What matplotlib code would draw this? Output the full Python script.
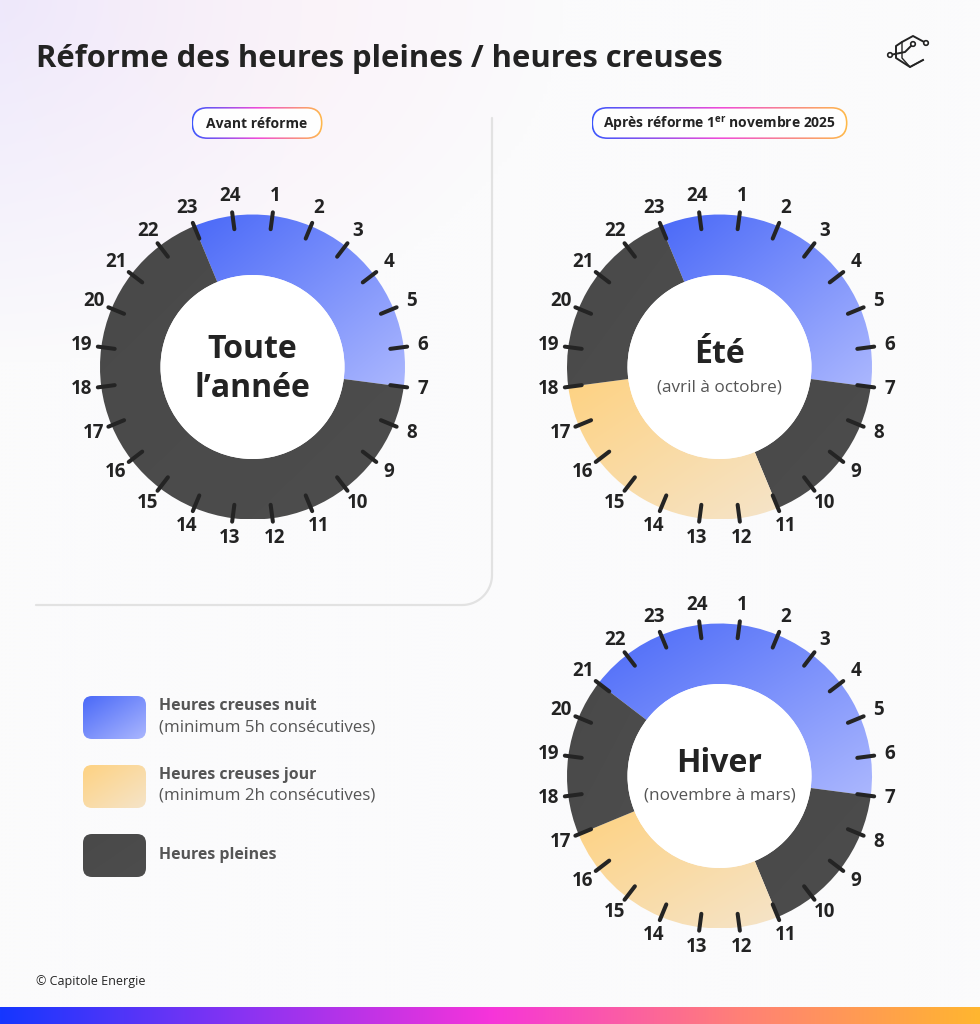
import numpy as np
import matplotlib
matplotlib.use('Agg')
import matplotlib.pyplot as plt
from matplotlib.patches import Wedge, FancyBboxPatch, Circle
from matplotlib.colors import to_rgb

plt.rcParams['font.family'] = ['Open Sans', 'DejaVu Sans']
plt.rcParams['mathtext.fontset'] = 'custom'
plt.rcParams['mathtext.rm'] = 'Open Sans'
plt.rcParams['mathtext.bf'] = 'Open Sans:bold'

W, H = 980, 1024

# ---- data ----
hours = list(range(1, 25))

# each chart: hour where a block starts (clockwise) and the kind of block
avant_starts = [23, 7]
avant_kinds = ['nuit', 'pleines']
ete_starts = [23, 7, 11, 18]
ete_kinds = ['nuit', 'pleines', 'jour', 'pleines']
hiver_starts = [21, 7, 11, 17]
hiver_kinds = ['nuit', 'pleines', 'jour', 'pleines']

legend_kinds = ['nuit', 'jour', 'pleines']
legend_titles = ['Heures creuses nuit', 'Heures creuses jour', 'Heures pleines']
legend_notes = ['(minimum 5h consécutives)', '(minimum 2h consécutives)', '']

colours = {
    'nuit': ('#4a69f8', '#abb7fe'),
    'jour': ('#fed282', '#f5e4c9'),
    'pleines': ('#494949', '#4d4d4d'),
}

DARK = '#232323'
GREY = '#555555'

fig = plt.figure(figsize=(W / 100, H / 100), dpi=100)
ax = fig.add_axes([0, 0, 1, 1])
ax.set_axis_off()


def gradient_fill(patch, c0, c1, bbox, z, direction='diag'):
    ax.add_patch(patch)
    x0, y0, x1, y1 = bbox
    xx, yy = np.meshgrid(np.linspace(0, 1, 120), np.linspace(0, 1, 120))
    if direction == 'diag':
        t = (xx + yy) / 2
    else:
        t = xx
    a = np.array(to_rgb(c0))
    b = np.array(to_rgb(c1))
    img = a * (1 - t)[..., None] + b * t[..., None]
    im = ax.imshow(img, extent=(x0, x1, y1, y0), origin='upper',
                   interpolation='bilinear', aspect='auto', zorder=z)
    im.set_clip_path(patch)
    return im


# ---- background ----
xx, yy = np.meshgrid(np.linspace(0, W, 245), np.linspace(0, H, 256))
base = np.array(to_rgb('#fbfbfc'))
lav = np.array(to_rgb('#eee8fb'))
pink = np.array(to_rgb('#f9ebf7'))
w = np.clip(1 - np.sqrt((xx / 560) ** 2 + (yy / 360) ** 2), 0, 1) ** 0.9
mix = np.clip(xx / 300, 0, 1)[..., None]
tint = lav * (1 - mix) + pink * mix
bg = base * (1 - w[..., None]) + tint * w[..., None]
ax.imshow(bg, extent=(0, W, H, 0), origin='upper', interpolation='bilinear',
          aspect='auto', zorder=0)

# bottom colour bar
bar_cols = ['#1537ff', '#8a33f2', '#f634da', '#ff7f78', '#ffb62f']
pos = np.linspace(0, 1, len(bar_cols))
tx = np.linspace(0, 1, 400)
bar = np.stack([np.interp(tx, pos, [to_rgb(c)[k] for c in bar_cols]) for k in range(3)], axis=-1)
ax.imshow(bar[None, :, :], extent=(0, W, H, 1007), origin='upper',
          interpolation='bilinear', aspect='auto', zorder=1)

# ---- title ----
ax.text(36, 67, 'Réforme des heures pleines / heures creuses', fontsize=22.3,
        fontweight='bold', color=DARK, ha='left', va='baseline', zorder=5)

# logo (rough)
logo_x = [926, 913, 902, 896, 896, 910, 923]
logo_y = [43, 36, 42, 46, 58, 67, 60]
ax.plot(logo_x, logo_y, color=DARK, lw=1.4, zorder=5)
ax.plot([890, 905, 913], [55, 52, 44], color=DARK, lw=1.4, zorder=5)
ax.plot([902, 902, 910, 923], [42, 58, 67, 60], color=DARK, lw=1.0, zorder=5)
for cx, cy in [(890, 55), (913, 44), (926, 43)]:
    ax.add_patch(Circle((cx, cy), 2.3, fc='white', ec=DARK, lw=1.2, zorder=6))

# ---- pills ----
pill_cols = ['#3c57fd', '#f04bd9', '#ffbb48']


def pill(cx, cy, wid, hei, label):
    x0, y0 = cx - wid / 2, cy - hei / 2
    outer = FancyBboxPatch((x0, y0), wid, hei, boxstyle='round,pad=0,rounding_size=%f' % (hei / 2),
                           fc='none', ec='none', zorder=3)
    ax.add_patch(outer)
    xs = np.linspace(0, 1, 300)
    p = np.linspace(0, 1, len(pill_cols))
    img = np.stack([np.interp(xs, p, [to_rgb(c)[k] for c in pill_cols]) for k in range(3)], axis=-1)
    im = ax.imshow(img[None, :, :], extent=(x0, x0 + wid, y0 + hei, y0), origin='upper',
                   interpolation='bilinear', aspect='auto', zorder=3)
    im.set_clip_path(outer)
    d = 1.6
    inner = FancyBboxPatch((x0 + d, y0 + d), wid - 2 * d, hei - 2 * d,
                           boxstyle='round,pad=0,rounding_size=%f' % (hei / 2 - d),
                           fc='#fefefe', ec='none', zorder=4)
    ax.add_patch(inner)
    ax.text(cx, cy + 1, label, fontsize=10, fontweight='bold', color=DARK,
            ha='center', va='center', zorder=5)


pill(257, 123, 131, 32, 'Avant réforme')
pill(719.5, 123, 256, 32, r'Après réforme 1$^{\mathbf{er}}$ novembre 2025')

# ---- divider ----
rad = 30
arc = np.linspace(0, np.pi / 2, 30)
div_x = np.concatenate([[492], 492 - rad + rad * np.cos(arc), [36]])
div_y = np.concatenate([[118], 605 - rad + rad * np.sin(arc), [605]])
ax.plot(div_x, div_y, color='#e2e2e2', lw=1.6, solid_capstyle='round', zorder=2)

# ---- donuts ----
R_OUT, R_IN = 152.5, 92


def clock_angle(h):
    return (h - 0.5) * 15


def donut(cx, cy, starts, kinds, title, subtitle=None):
    n = len(starts)
    for i in range(n):
        a = starts[i]
        b = starts[(i + 1) % n]
        if b <= a:
            b += 24
        th1 = clock_angle(a) - 90
        th2 = clock_angle(b) - 90
        wdg = Wedge((cx, cy), R_OUT, th1, th2, width=R_OUT - R_IN,
                    fc='none', ec='none', zorder=3)
        ext = wdg.get_path().get_extents()
        c0, c1 = colours[kinds[i]]
        gradient_fill(wdg, c0, c1, (ext.x0, ext.y0, ext.x1, ext.y1), 3)
    ax.add_patch(Circle((cx, cy), R_IN, fc='white', ec='none', zorder=3.5))
    for h in hours:
        c = np.radians(clock_angle(h))
        dx, dy = np.sin(c), -np.cos(c)
        ax.plot([cx + 139 * dx, cx + 156 * dx], [cy + 139 * dy, cy + 156 * dy],
                color='#242424', lw=2.9, solid_capstyle='round', zorder=4)
        ax.text(cx + 172 * dx, cy + 172 * dy, str(h), fontsize=13.5, fontweight='bold',
                color=DARK, ha='center', va='center', zorder=5)
    if subtitle is None:
        ax.text(cx, cy - 9, title[0], fontsize=23, fontweight='bold', color=DARK,
                ha='center', va='baseline', zorder=5)
        ax.text(cx, cy + 30, title[1], fontsize=23, fontweight='bold', color=DARK,
                ha='center', va='baseline', zorder=5)
    else:
        ax.text(cx, cy - 4, title, fontsize=23, fontweight='bold', color=DARK,
                ha='center', va='baseline', zorder=5)
        ax.text(cx, cy + 20, subtitle, fontsize=12.3, color=GREY,
                ha='center', va='center', zorder=5)


donut(252.5, 367, avant_starts, avant_kinds, ('Toute', 'l\u2019année'))
donut(719.5, 367, ete_starts, ete_kinds, 'Été', '(avril à octobre)')
donut(719.5, 776, hiver_starts, hiver_kinds, 'Hiver', '(novembre à mars)')

# ---- legend ----
leg_top = [696, 765, 834]
for k, y0 in zip(legend_kinds, leg_top):
    box = FancyBboxPatch((83, y0), 63, 43, boxstyle='round,pad=0,rounding_size=9',
                         fc='none', ec='none', zorder=3)
    c0, c1 = colours[k]
    gradient_fill(box, c0, c1, (83, y0, 146, y0 + 43), 3)
for i, y0 in enumerate(leg_top):
    if legend_notes[i]:
        ax.text(159, y0 + 10, legend_titles[i], fontsize=11.4, fontweight='bold',
                color=GREY, ha='left', va='center', zorder=5)
        ax.text(159, y0 + 31, legend_notes[i], fontsize=12.2, color=GREY,
                ha='left', va='center', zorder=5)
    else:
        ax.text(159, y0 + 21, legend_titles[i], fontsize=11.4, fontweight='bold',
                color=GREY, ha='left', va='center', zorder=5)

# ---- footer ----
ax.text(36, 981, '© Capitole Energie', fontsize=9, color=DARK,
        ha='left', va='center', zorder=5)

ax.set_xlim(0, W)
ax.set_ylim(H, 0)
fig.savefig('out.png', dpi=100)
